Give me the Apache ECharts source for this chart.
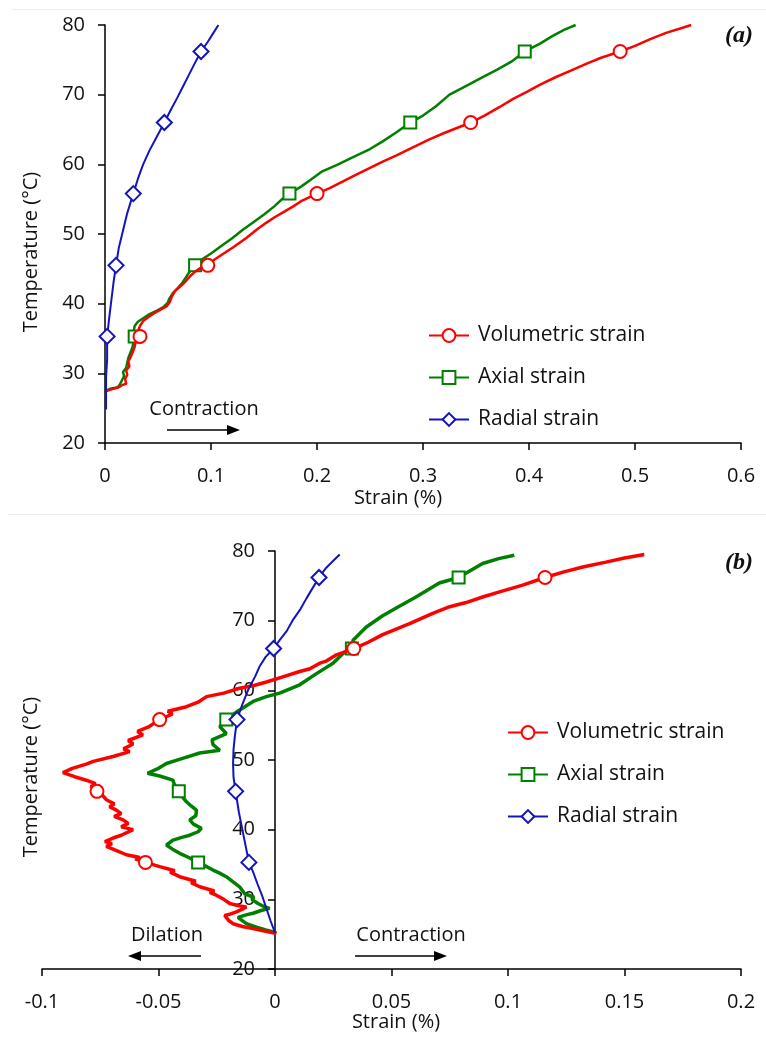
<!DOCTYPE html>
<html>
<head>
<meta charset="utf-8">
<script src="https://cdn.jsdelivr.net/npm/echarts@6/dist/echarts.min.js"></script>
<style>
  html, body { margin: 0; padding: 0; background: #fff; }
  #chart { width: 766px; height: 1037px; }
</style>
</head>
<body>
<div id="chart"></div>
<script>
// Series names shared by both panels
const seriesNames = ['Volumetric strain', 'Axial strain', 'Radial strain'];

// Temperatures (°C) at which the open markers are drawn on every curve
const markTempsA = [35.3, 45.5, 55.8, 66.0, 76.2];
const markTempsB = [35.3, 45.5, 55.8, 66.0, 76.2];

// Panel (a): [strain %, temperature °C]
const volA = [[0.000,27.4],[0.006,27.7],[0.013,28.0],[0.016,28.3],[0.020,28.5],[0.019,29.2],[0.021,29.8],[0.020,30.4],[0.023,31.0],[0.022,31.7],[0.024,32.3],[0.026,33.0],[0.028,33.8],[0.029,34.6],[0.033,35.3],[0.031,36.0],[0.033,36.8],[0.036,37.5],[0.041,38.1],[0.046,38.6],[0.052,39.1],[0.058,39.6],[0.061,40.2],[0.063,41.0],[0.066,41.8],[0.072,42.6],[0.076,43.2],[0.080,43.9],[0.085,44.6],[0.090,45.1],[0.097,45.5],[0.103,46.3],[0.112,47.2],[0.122,48.2],[0.133,49.4],[0.143,50.6],[0.152,51.6],[0.160,52.4],[0.168,53.1],[0.178,54.0],[0.186,54.8],[0.200,55.8],[0.212,56.6],[0.225,57.6],[0.238,58.6],[0.250,59.5],[0.262,60.4],[0.275,61.3],[0.290,62.4],[0.305,63.5],[0.320,64.5],[0.335,65.4],[0.345,66.0],[0.358,67.0],[0.372,68.2],[0.385,69.4],[0.398,70.4],[0.410,71.4],[0.425,72.5],[0.440,73.5],[0.455,74.5],[0.468,75.3],[0.486,76.2],[0.500,77.0],[0.515,78.0],[0.530,78.9],[0.545,79.6],[0.553,80.0]];
const axiA = [[0.000,27.4],[0.005,27.8],[0.012,28.0],[0.014,28.4],[0.016,29.0],[0.018,29.6],[0.017,30.2],[0.020,30.8],[0.021,31.5],[0.022,32.2],[0.024,33.0],[0.026,33.8],[0.027,34.6],[0.028,35.3],[0.027,36.0],[0.028,36.8],[0.031,37.4],[0.036,37.9],[0.042,38.5],[0.049,39.0],[0.055,39.5],[0.059,40.1],[0.061,40.8],[0.064,41.5],[0.069,42.3],[0.073,43.0],[0.076,43.7],[0.079,44.4],[0.082,45.0],[0.085,45.5],[0.092,46.4],[0.100,47.2],[0.110,48.3],[0.120,49.4],[0.130,50.6],[0.140,51.7],[0.150,52.8],[0.160,54.0],[0.167,55.0],[0.174,55.8],[0.185,56.8],[0.195,57.9],[0.205,59.0],[0.220,60.0],[0.235,61.1],[0.250,62.2],[0.262,63.3],[0.275,64.6],[0.288,66.0],[0.300,67.0],[0.312,68.3],[0.325,70.0],[0.340,71.2],[0.355,72.4],[0.370,73.6],[0.383,74.7],[0.396,76.2],[0.410,77.3],[0.422,78.4],[0.433,79.3],[0.444,80.0]];
const radA = [[0.001,24.8],[0.001,27.0],[0.001,29.5],[0.002,32.0],[0.002,35.3],[0.004,38.0],[0.006,40.5],[0.008,43.0],[0.0104,45.5],[0.013,48.0],[0.017,50.5],[0.021,53.0],[0.0267,55.8],[0.031,57.9],[0.036,60.0],[0.042,62.0],[0.049,64.0],[0.056,66.0],[0.062,67.8],[0.068,69.5],[0.073,71.0],[0.079,72.8],[0.085,74.6],[0.0906,76.2],[0.097,77.6],[0.102,78.8],[0.107,80.0]];

// Panel (b): [strain %, temperature °C]
const volB = [[0.0006,25.1],[-0.004,25.4],[-0.0094,25.8],[-0.014,26.1],[-0.018,26.5],[-0.020,27.0],[-0.0216,27.7],[-0.019,27.9],[-0.0166,28.2],[-0.014,28.6],[-0.0123,28.9],[-0.016,29.1],[-0.0194,29.4],[-0.022,30.0],[-0.0252,30.6],[-0.028,31.0],[-0.026,31.2],[-0.0323,31.8],[-0.036,32.4],[-0.034,32.6],[-0.0409,33.25],[-0.045,33.9],[-0.043,34.1],[-0.0495,34.7],[-0.0556,35.3],[-0.060,35.8],[-0.058,36.0],[-0.0638,36.4],[-0.068,37.0],[-0.0724,37.6],[-0.070,38.0],[-0.073,38.3],[-0.0695,38.8],[-0.066,39.2],[-0.0609,40.0],[-0.066,40.4],[-0.063,40.9],[-0.0652,41.4],[-0.069,41.9],[-0.066,42.3],[-0.0681,42.8],[-0.071,43.3],[-0.069,43.7],[-0.0724,44.3],[-0.074,44.9],[-0.0764,45.5],[-0.079,46.2],[-0.077,46.6],[-0.081,47.1],[-0.086,47.6],[-0.091,48.2],[-0.087,48.8],[-0.081,49.4],[-0.078,49.8],[-0.0695,50.5],[-0.0624,51.2],[-0.065,51.6],[-0.0609,52.3],[-0.063,52.8],[-0.0567,53.6],[-0.059,54.1],[-0.054,54.8],[-0.0495,55.8],[-0.044,56.6],[-0.046,57.0],[-0.038,57.65],[-0.033,58.3],[-0.0294,59.1],[-0.022,59.6],[-0.0152,60.3],[-0.009,60.7],[-0.0037,61.2],[0.003,61.9],[0.0106,62.7],[0.015,63.1],[0.0192,63.9],[0.022,64.2],[0.0264,65.1],[0.0338,66.0],[0.040,66.9],[0.0462,68.0],[0.052,68.8],[0.058,69.6],[0.0677,71.05],[0.075,72.0],[0.082,72.6],[0.0891,73.4],[0.096,74.1],[0.1063,75.1],[0.1159,76.2],[0.124,77.0],[0.1321,77.7],[0.142,78.4],[0.150,79.0],[0.1585,79.5]];
const axiB = [[0.0006,25.2],[-0.004,25.6],[-0.008,26.0],[-0.0123,26.5],[-0.0159,27.4],[-0.012,27.8],[-0.0094,28.0],[-0.006,28.4],[-0.0023,28.7],[-0.005,29.0],[-0.0073,29.4],[-0.010,30.0],[-0.009,30.3],[-0.013,30.8],[-0.0152,31.8],[-0.018,32.5],[-0.0209,33.25],[-0.024,33.8],[-0.0266,34.2],[-0.030,34.8],[-0.033,35.3],[-0.037,36.0],[-0.0409,36.6],[-0.044,37.2],[-0.0466,37.8],[-0.0438,38.5],[-0.040,38.9],[-0.0366,39.2],[-0.033,39.7],[-0.0316,40.2],[-0.035,40.8],[-0.0366,41.4],[-0.034,42.0],[-0.0337,42.8],[-0.036,43.4],[-0.038,44.0],[-0.040,44.8],[-0.0413,45.5],[-0.043,46.3],[-0.0438,47.1],[-0.0495,47.7],[-0.0547,48.1],[-0.050,48.8],[-0.0466,49.5],[-0.040,50.2],[-0.0323,51.0],[-0.0237,51.4],[-0.0266,52.2],[-0.027,52.9],[-0.0209,53.8],[-0.0237,54.8],[-0.022,55.3],[-0.0209,55.8],[-0.016,57.0],[-0.0094,58.4],[-0.0037,59.1],[0.002,59.6],[0.0106,60.8],[0.0178,62.4],[0.0249,63.9],[0.0292,65.3],[0.033,66.0],[0.0335,67.2],[0.0392,69.1],[0.0462,70.7],[0.053,72.0],[0.0605,73.4],[0.0705,75.4],[0.0788,76.2],[0.0891,78.2],[0.096,78.9],[0.1027,79.4]];
const radB = [[0.000,25.2],[-0.002,27.0],[-0.004,29.0],[-0.0055,30.5],[-0.0075,32.2],[-0.0095,34.0],[-0.0112,35.3],[-0.0125,37.5],[-0.014,40.0],[-0.0155,42.5],[-0.0169,45.5],[-0.0178,47.5],[-0.018,49.5],[-0.0178,51.5],[-0.0172,53.5],[-0.0163,55.8],[-0.014,58.0],[-0.0116,60.0],[-0.0085,62.0],[-0.0065,63.5],[-0.004,64.8],[-0.0006,66.0],[0.002,67.2],[0.005,68.5],[0.0075,70.0],[0.011,71.7],[0.0135,73.2],[0.016,74.6],[0.0189,76.2],[0.022,77.6],[0.025,78.6],[0.0278,79.5]];

// Axis ranges and tick steps
const xRangeA = { min: 0, max: 0.6, interval: 0.1 };
const xRangeB = { min: -0.1, max: 0.2, interval: 0.05 };
const yRange = { min: 20, max: 80, interval: 10 };

// Plot areas (pixels)
const gridA = { left: 105, right: 25, top: 25, height: 418 };
const gridB = { left: 42, right: 25, top: 551, height: 418 };
const WIDTH = 766;

const FONT = 'Open Sans';
const styles = {
  vol: { color: '#ff0000', symbol: 'circle', size: 13, z: 3 },
  axi: { color: '#008000', symbol: 'rect', size: 12, z: 2 },
  rad: { color: '#1414be', symbol: 'diamond', size: 15, z: 4 }
};

function withMarks(points, marks) {
  return points.map(p => marks.indexOf(p[1]) >= 0 ? { value: p } : { value: p, symbol: 'none' });
}

function makeSeries(name, points, marks, st, axis, width) {
  return {
    name: name, type: 'line', xAxisIndex: axis, yAxisIndex: axis,
    data: withMarks(points, marks),
    symbol: st.symbol, symbolSize: st.size, showSymbol: true,
    itemStyle: { color: '#fff', borderColor: st.color, borderWidth: 2 },
    lineStyle: { color: st.color, width: width },
    z: st.z, animation: false, silent: true,
    emphasis: { disabled: true }
  };
}

function xAxisOf(range, grid) {
  return {
    type: 'value', gridIndex: grid, min: range.min, max: range.max, interval: range.interval,
    axisLine: { onZero: false, lineStyle: { color: '#000', width: 1.5 } },
    axisTick: { show: true, length: 7, lineStyle: { color: '#000', width: 1.5 } },
    axisLabel: { margin: 23, color: '#111', fontSize: 20, fontFamily: FONT },
    splitLine: { show: false }
  };
}

// The temperature axis is drawn where strain = 0 on its panel's strain axis
function yAxisOf(grid, gridBox, xRange) {
  const plotWidth = WIDTH - gridBox.left - gridBox.right;
  const zeroShift = (0 - xRange.min) / (xRange.max - xRange.min) * plotWidth;
  return {
    type: 'value', gridIndex: grid, min: yRange.min, max: yRange.max, interval: yRange.interval,
    offset: -zeroShift,
    axisLine: { onZero: false, lineStyle: { color: '#000', width: 1.5 } },
    axisTick: { show: true, length: 7, lineStyle: { color: '#000', width: 1.5 } },
    axisLabel: { margin: 20, color: '#111', fontSize: 20, fontFamily: FONT },
    splitLine: { show: false }
  };
}

function legendOf(left, top) {
  return {
    data: seriesNames, orient: 'vertical', left: left, top: top,
    itemWidth: 40, itemHeight: 16, itemGap: 21, selectedMode: false,
    textStyle: { fontSize: 21, fontFamily: FONT, color: '#111', padding: [0, 0, 0, 4] }
  };
}

function label(text, x, y, font, extra) {
  return Object.assign({
    type: 'text', x: x, y: y, silent: true,
    style: { text: text, fill: '#111', font: font || '20px "Open Sans"', align: 'center', verticalAlign: 'middle' }
  }, extra || {});
}

function arrow(x1, x2, y) {
  const dir = x2 > x1 ? 1 : -1;
  const head = 13;
  return [
    { type: 'line', silent: true, shape: { x1: x1, y1: y, x2: x2 - dir * head, y2: y }, style: { stroke: '#000', lineWidth: 1.5 } },
    { type: 'polygon', silent: true, shape: { points: [[x2, y], [x2 - dir * head, y - 5], [x2 - dir * head, y + 5]] }, style: { fill: '#000' } }
  ];
}

const chart = echarts.init(document.getElementById('chart'), null, { renderer: 'canvas' });

const nameFont = '20px "Open Sans"';
const tagFont = 'italic bold 24px "Liberation Serif"';
const graphics = [
  { type: 'line', silent: true, shape: { x1: 12, y1: 9.5, x2: 766, y2: 9.5 }, style: { stroke: '#ececec', lineWidth: 1 } },
  { type: 'line', silent: true, shape: { x1: 8, y1: 514.5, x2: 766, y2: 514.5 }, style: { stroke: '#ececec', lineWidth: 1 } },
  label('Strain (%)', 398, 498, nameFont),
  label('Strain (%)', 396, 1022, nameFont),
  label('Temperature (°C)', 31, 252, nameFont, { rotation: Math.PI / 2 }),
  label('Temperature (°C)', 31, 777, nameFont, { rotation: Math.PI / 2 }),
  label('(a)', 739, 36, tagFont),
  label('(b)', 739, 563, tagFont),
  label('Contraction', 204, 409),
  label('Dilation', 167, 935),
  label('Contraction', 411, 935)
].concat(arrow(167, 240, 430), arrow(201, 128, 956), arrow(355, 447, 956));

chart.setOption({
  backgroundColor: '#fff',
  animation: false,
  grid: [gridA, gridB],
  xAxis: [xAxisOf(xRangeA, 0), xAxisOf(xRangeB, 1)],
  yAxis: [yAxisOf(0, gridA, xRangeA), yAxisOf(1, gridB, xRangeB)],
  legend: [legendOf(423, 320), legendOf(502, 717)],
  series: [
    makeSeries(seriesNames[0], volA, markTempsA, styles.vol, 0, 2.5),
    makeSeries(seriesNames[1], axiA, markTempsA, styles.axi, 0, 2.5),
    makeSeries(seriesNames[2], radA, markTempsA, styles.rad, 0, 2),
    makeSeries(seriesNames[0], volB, markTempsB, styles.vol, 1, 3.5),
    makeSeries(seriesNames[1], axiB, markTempsB, styles.axi, 1, 3.5),
    makeSeries(seriesNames[2], radB, markTempsB, styles.rad, 1, 2)
  ],
  graphic: graphics
});
</script>
</body>
</html>
